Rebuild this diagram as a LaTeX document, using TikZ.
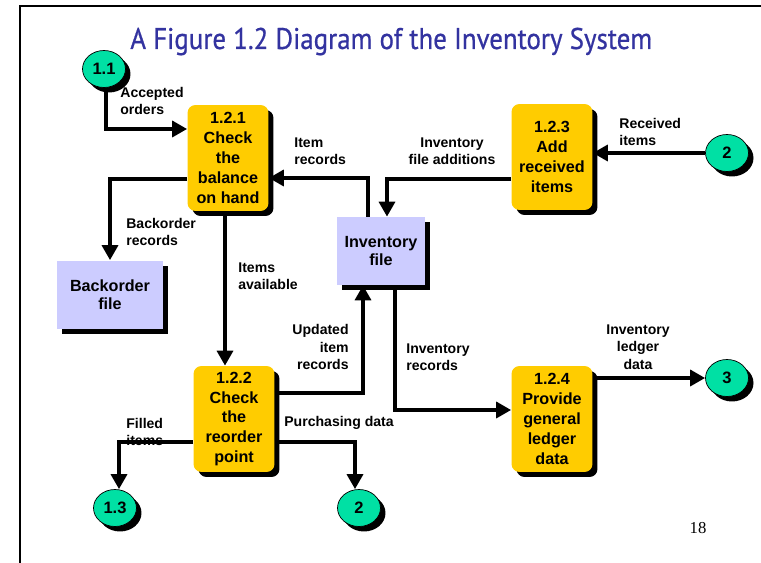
\documentclass[tikz,border=0pt]{standalone}
\usepackage{graphicx}
\usepackage{fontspec}
\setmainfont{Liberation Sans}
\newfontfamily\titlefont[FakeBold=0.7]{PT Sans}
\newfontfamily\pagefont{Liberation Serif}
\usetikzlibrary{shapes.geometric,shadows,arrows.meta}
\definecolor{procyellow}{RGB}{255,204,0}
\definecolor{storeblue}{RGB}{204,204,255}
\definecolor{endgreen}{RGB}{0,224,164}
\definecolor{titleblue}{RGB}{51,51,160}
\tikzset{
  blackshadow/.style={drop shadow={shadow xshift=0.1cm,shadow yshift=-0.1cm,opacity=1,fill=black}},
  process/.style={rectangle,rounded corners=0.16cm,fill=procyellow,blackshadow,
    minimum width=1.62cm,minimum height=2.12cm,inner sep=1pt,align=center,
    font=\fontsize{9.2}{11.3}\selectfont\bfseries},
  store/.style={rectangle,fill=storeblue,blackshadow,inner sep=1pt,align=center,
    font=\fontsize{9.2}{10.4}\selectfont\bfseries},
  ext/.style={ellipse,draw=black,thin,fill=endgreen,blackshadow,
    minimum width=0.86cm,minimum height=0.74cm,inner sep=0pt,
    font=\fontsize{9.4}{10}\selectfont\bfseries},
  flow/.style={line width=2.4pt,-{Triangle[length=8.5pt,width=9pt]}},
  lbl/.style={inner sep=0pt,align=left,font=\fontsize{8}{9.9}\selectfont\bfseries}
}
\begin{document}
\begin{tikzpicture}[x=0.02cm,y=-0.02cm]
\useasboundingbox (0,0) rectangle (761,563);
\draw[line width=1.2pt] (761,6) -- (20,6) -- (20,563);

\node[anchor=base west,inner sep=0pt,text=titleblue,font=\titlefont\fontsize{17}{20}\selectfont] (title) at (130,49)
  {\resizebox{297pt}{\height}{A Figure 1.2 Diagram of the Inventory System}};

\node[process] (p121) at (228,158) {1.2.1\\Check\\the\\balance\\on hand};
\node[process] (p123) at (552,157) {1.2.3\\Add\\received\\items};
\node[process] (p122) at (234,419) {1.2.2\\Check\\the\\reorder\\point};
\node[process] (p124) at (552,419) {1.2.4\\Provide\\general\\ledger\\data};

\node[store,minimum width=1.76cm,minimum height=1.36cm] (invf) at (381,251) {Inventory\\file};
\node[store,minimum width=2.12cm,minimum height=1.38cm] (backf) at (110,295) {Backorder\\file};

\node[ext] (c11) at (104,69) {1.1};
\node[ext] (c2a) at (727,153) {2};
\node[ext] (c3) at (727,378) {3};
\node[ext] (c13) at (115,508) {1.3};
\node[ext] (c2b) at (359,508) {2};

\draw[flow] (c11.south -| 106,0) |- (p121.west |- 0,129);
\draw[flow] (invf.north -| 368,0) |- (p121.east |- 0,178);
\draw[flow] (p123.west |- 0,179) -| (invf.north -| 387,0);
\draw[flow] (c2a.west) -- (p123.east |- c2a.west);
\draw[flow] (p121.west |- 0,179) -| (backf.north);
\draw[flow] (p121.south -| 225,0) -- (p122.north -| 225,0);
\draw[flow] (p122.east |- 0,393) -| (invf.south -| 363,0);
\draw[flow] (invf.south -| 395,0) |- (p124.west |- 0,410);
\draw[flow] (p124.east |- c3.west) -- (c3.west);
\draw[flow] (p122.west |- 0,442) -| (c13.north -| 119,0);
\draw[flow] (p122.east |- 0,442) -| (c2b.north -| 355,0);

\node[lbl,anchor=west] (l1) at (120,101) {Accepted\\orders};
\node[lbl,anchor=west] (l2) at (294,151) {Item\\records};
\node[lbl,align=center] (l3) at (452,151) {Inventory\\file additions};
\node[lbl,anchor=west] (l4) at (619,132) {Received\\items};
\node[lbl,anchor=west] (l5) at (126,232) {Backorder\\records};
\node[lbl,anchor=west] (l6) at (238,276) {Items\\available};
\node[lbl,anchor=east,align=right] (l7) at (349,347) {Updated\\item\\records};
\node[lbl,anchor=west] (l8) at (406,357) {Inventory\\records};
\node[lbl,align=center] (l9) at (638,347) {Inventory\\ledger\\data};
\node[lbl,anchor=west] (l10) at (126,432) {Filled\\items};
\node[lbl,anchor=west] (l11) at (284,423) {Purchasing data};

\node[font=\pagefont\fontsize{9.5}{11}\selectfont] (pagenum) at (698,528) {18};
\end{tikzpicture}
\end{document}
